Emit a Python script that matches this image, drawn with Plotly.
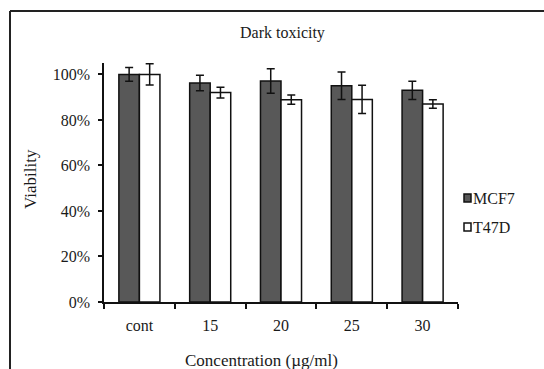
import plotly.graph_objects as go

categories = ["cont", "15", "20", "25", "30"]
mcf7 = [1.00, 0.962, 0.971, 0.95, 0.93]
mcf7_err = [0.03, 0.034, 0.054, 0.06, 0.04]
t47d = [1.00, 0.92, 0.889, 0.89, 0.87]
t47d_err = [0.047, 0.024, 0.02, 0.062, 0.019]
ytick_vals = [0, 0.2, 0.4, 0.6, 0.8, 1.0]
ytick_text = ["0%", "20%", "40%", "60%", "80%", "100%"]

W, H = 544, 369
L, R, T, B = 104, 86, 63, 67
PW, PH = W - L - R, H - T - B

def px(x):
    return (x - L) / PW

def py(y):
    return (H - B - y) / PH

FONT = "Liberation Serif"
TXT = "#1a1a1a"

fig = go.Figure()
fig.add_trace(go.Bar(
    x=categories, y=mcf7, name="MCF7",
    marker=dict(color="#585858", line=dict(color="#111", width=1.5)),
    error_y=dict(type="data", array=mcf7_err, color="#111", thickness=1.5, width=4),
))
fig.add_trace(go.Bar(
    x=categories, y=t47d, name="T47D",
    marker=dict(color="white", line=dict(color="#111", width=1.5)),
    error_y=dict(type="data", array=t47d_err, color="#111", thickness=1.5, width=4),
))

fig.update_layout(
    width=W, height=H,
    margin=dict(l=L, r=R, t=T, b=B),
    paper_bgcolor="white", plot_bgcolor="white",
    barmode="group", bargap=0.42, bargroupgap=0,
    showlegend=False,
    font=dict(family=FONT, size=16, color=TXT),
)
fig.update_xaxes(
    showline=True, linecolor="#111", linewidth=1.5,
    ticks="outside", ticklen=5, tickwidth=1.5, tickcolor="#111",
    tickson="boundaries", showgrid=False, ticklabelstandoff=8,
    tickfont=dict(family=FONT, size=16, color=TXT),
)
fig.update_yaxes(
    range=[0, 1.05], showline=True, linecolor="#111", linewidth=1.5,
    ticks="outside", ticklen=4, tickwidth=1.5, tickcolor="#111",
    tickvals=ytick_vals, ticktext=ytick_text, showgrid=False, zeroline=False,
    ticklabelstandoff=5,
    tickfont=dict(family=FONT, size=16, color=TXT),
)

# outer frame
fig.add_shape(type="line", xref="paper", yref="paper",
              x0=px(10), x1=px(10), y0=py(11), y1=py(369), line=dict(color="#222", width=2))
fig.add_shape(type="line", xref="paper", yref="paper",
              x0=px(10), x1=px(544), y0=py(11), y1=py(11), line=dict(color="#222", width=2))

# title and axis titles
fig.add_annotation(text="Dark toxicity", xref="paper", yref="paper",
                   x=px(282), y=py(33), showarrow=False,
                   xanchor="center", yanchor="middle",
                   font=dict(family=FONT, size=16, color=TXT))
fig.add_annotation(text="Concentration (µg/ml)", xref="paper", yref="paper",
                   x=px(261), y=py(360), showarrow=False,
                   xanchor="center", yanchor="middle",
                   font=dict(family=FONT, size=17, color=TXT))
fig.add_annotation(text="Viability", xref="paper", yref="paper",
                   x=px(30), y=py(179), showarrow=False, textangle=-90,
                   xanchor="center", yanchor="middle",
                   font=dict(family=FONT, size=17, color=TXT))

# legend
legend_names = ["MCF7", "T47D"]
legend_colors = ["#585858", "white"]
legend_y = [198, 227]
for name, col, yc in zip(legend_names, legend_colors, legend_y):
    fig.add_shape(type="rect", xref="paper", yref="paper",
                  x0=px(464), x1=px(471), y0=py(yc - 4), y1=py(yc + 4),
                  fillcolor=col, line=dict(color="#111", width=1.5))
    fig.add_annotation(text=name, xref="paper", yref="paper",
                       x=px(471), y=py(yc), xanchor="left", yanchor="middle",
                       showarrow=False,
                       font=dict(family=FONT, size=16, color=TXT))

fig.write_html("out.html")
